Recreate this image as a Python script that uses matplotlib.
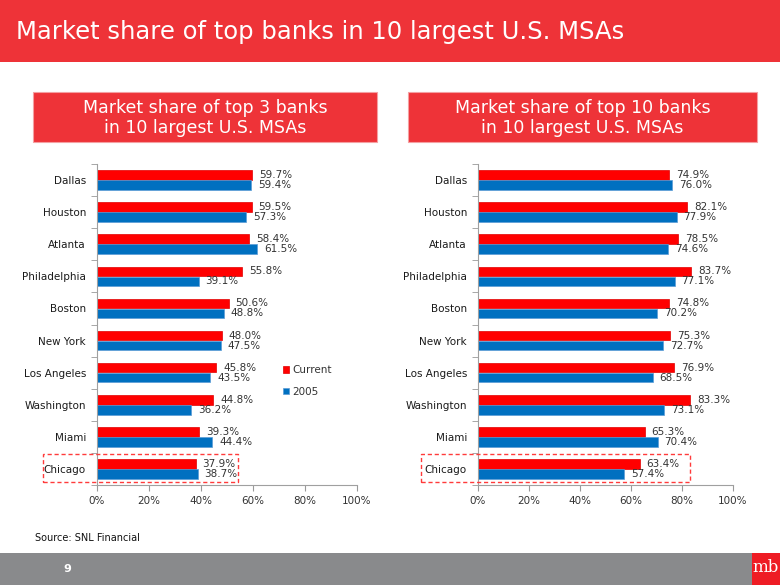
import matplotlib.pyplot as plt
from matplotlib.patches import Rectangle
from matplotlib.ticker import FixedLocator, PercentFormatter

cities = ['Dallas', 'Houston', 'Atlanta', 'Philadelphia', 'Boston',
          'New York', 'Los Angeles', 'Washington', 'Miami', 'Chicago']
top3_current = [59.7, 59.5, 58.4, 55.8, 50.6, 48.0, 45.8, 44.8, 39.3, 37.9]
top3_2005 = [59.4, 57.3, 61.5, 39.1, 48.8, 47.5, 43.5, 36.2, 44.4, 38.7]
top10_current = [74.9, 82.1, 78.5, 83.7, 74.8, 75.3, 76.9, 83.3, 65.3, 63.4]
top10_2005 = [76.0, 77.9, 74.6, 77.1, 70.2, 72.7, 68.5, 73.1, 70.4, 57.4]

RED = '#FF0000'
BLUE = '#0070C0'
BAND = '#EE3338'
TXT = '#333333'

W, H = 780, 585
fig = plt.figure(figsize=(7.8, 5.85), dpi=100)


def px(x0, y0, x1, y1):
    # pixel box (top-left origin) -> figure fraction [l, b, w, h]
    return [x0 / W, 1 - y1 / H, (x1 - x0) / W, (y1 - y0) / H]


def fig_rect(x0, y0, x1, y1, **kw):
    l, b, w, h = px(x0, y0, x1, y1)
    fig.patches.append(Rectangle((l, b), w, h, transform=fig.transFigure, **kw))


# header band
fig_rect(0, 0, W, 62, facecolor=BAND, edgecolor='none')
fig.text(16 / W, 1 - 32 / H, 'Market share of top banks in 10 largest U.S. MSAs',
         color='white', fontsize=17.5, va='center', ha='left')

# subtitle boxes
for (x0, x1), txt in [((33, 377), 'Market share of top 3 banks\nin 10 largest U.S. MSAs'),
                      ((408, 757), 'Market share of top 10 banks\nin 10 largest U.S. MSAs')]:
    fig_rect(x0, 92, x1, 142, facecolor=BAND, edgecolor='#F4A0A2', linewidth=0.8)
    fig.text((x0 + x1) / 2 / W, 1 - 118 / H, txt, color='white', fontsize=12.5,
             ha='center', va='center', linespacing=1.1)


def draw_panel(rect, current, old, legend=False):
    ax = fig.add_axes(px(*rect))
    pos = list(range(len(cities)))
    b1 = ax.barh([p - 0.155 for p in pos], current, height=0.3, color=RED,
                 edgecolor='#E00000', linewidth=0.5, label='Current')
    b2 = ax.barh([p + 0.155 for p in pos], old, height=0.3, color=BLUE,
                 edgecolor='#5A9BD5', linewidth=0.5, label='2005')
    for p, v in zip(pos, current):
        ax.annotate(f'{v:.1f}%', (v, p - 0.155), xytext=(5, 0), textcoords='offset points',
                    va='center', fontsize=7.5, color=TXT)
    for p, v in zip(pos, old):
        ax.annotate(f'{v:.1f}%', (v, p + 0.155), xytext=(5, 0), textcoords='offset points',
                    va='center', fontsize=7.5, color=TXT)
    ax.set_xlim(0, 100)
    ax.set_ylim(len(cities) - 0.5, -0.5)
    ax.set_yticks(pos)
    ax.set_yticklabels(cities, fontsize=7.5, color='#1A1A1A')
    ax.yaxis.set_minor_locator(FixedLocator([p - 0.5 for p in range(len(cities) + 1)]))
    ax.tick_params(axis='y', which='major', length=0, pad=8)
    ax.tick_params(axis='y', which='minor', length=4, color='#999999', direction='out')
    ax.set_xticks(range(0, 101, 20))
    ax.xaxis.set_major_formatter(PercentFormatter(decimals=0))
    ax.tick_params(axis='x', labelsize=7.5, labelcolor=TXT, length=4, color='#999999', pad=4)
    for s in ('top', 'right'):
        ax.spines[s].set_visible(False)
    for s in ('left', 'bottom'):
        ax.spines[s].set_color('#A0A0A0')
    if legend:
        fig.legend(handles=[b1, b2], loc='center left', bbox_to_anchor=(278 / W, 1 - 381 / H),
                   frameon=False, fontsize=7.5, handlelength=0.6, handleheight=0.6,
                   handletextpad=0.3, labelspacing=1.1, borderpad=0, labelcolor=TXT)
    return ax


draw_panel((97, 164, 357, 485), top3_current, top3_2005, legend=True)
draw_panel((478, 164, 733, 485), top10_current, top10_2005)

# dashed highlight around Chicago
for x0, x1 in [(43, 238), (421, 690)]:
    fig_rect(x0, 454, x1, 482, facecolor='none', edgecolor='#FF3B3B',
             linewidth=1, linestyle=(0, (3, 2)))

fig.text(35 / W, 1 - 538 / H, 'Source: SNL Financial', fontsize=7, va='center', color='#111111')

# footer
fig_rect(0, 553, W, H, facecolor='#898A8C', edgecolor='none')
fig.text(63 / W, 1 - 569 / H, '9', fontsize=8, color='white', fontweight='bold', va='center')
fig_rect(752, 553, W, H, facecolor='#EE1C24', edgecolor='none')
fig.text(766 / W, 1 - 568 / H, 'mb', fontsize=12, color='white', family='DejaVu Serif',
         ha='center', va='center')

fig.savefig('out.png', dpi=100, facecolor='white')
